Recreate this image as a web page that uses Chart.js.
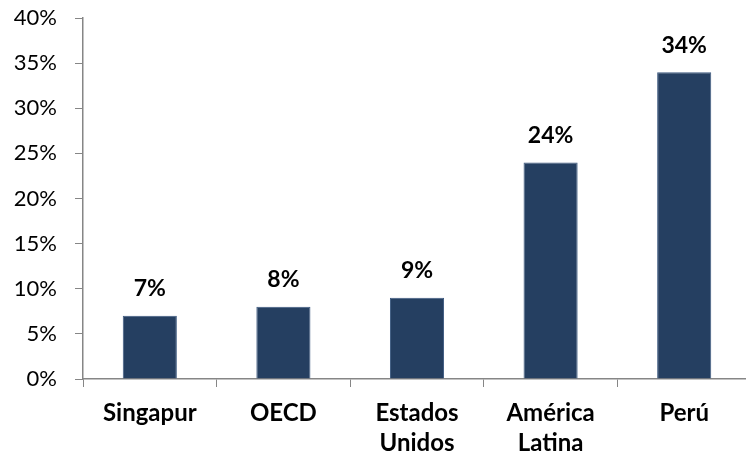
<!DOCTYPE html>
<html>
<head>
<meta charset="utf-8">
<script src="https://cdn.jsdelivr.net/npm/chart.js@4/dist/chart.umd.min.js"></script>
<style>
html,body{margin:0;padding:0;background:#fff;overflow:hidden;}
#wrap{width:752px;height:457px;}
</style>
</head>
<body>
<div id="wrap"><canvas id="c" width="752" height="457"></canvas></div>
<script>
const categories = [["Singapur"], ["OECD"], ["Estados", "Unidos"], ["América", "Latina"], ["Perú"]];
const values = [7, 8, 9, 24, 34];
const yTicks = [0, 5, 10, 15, 20, 25, 30, 35, 40];

const FONT = "Lato, 'Open Sans', sans-serif";

const labelPlugin = {
  id: 'valueLabels',
  afterDatasetsDraw(chart) {
    const ctx = chart.ctx;
    const meta = chart.getDatasetMeta(0);
    ctx.save();
    ctx.font = "bold 23px " + FONT;
    ctx.fillStyle = '#000';
    ctx.textAlign = 'center';
    ctx.textBaseline = 'middle';
    meta.data.forEach((bar, i) => {
      ctx.fillText(values[i] + '%', bar.x, bar.y - 27);
    });
    ctx.restore();
  }
};

new Chart(document.getElementById('c'), {
  type: 'bar',
  data: {
    labels: categories,
    datasets: [{
      data: values,
      backgroundColor: '#253F61',
      borderColor: '#3D5A80',
      borderWidth: 1,
      barPercentage: 0.405,
      categoryPercentage: 1.0
    }]
  },
  options: {
    responsive: false,
    animation: false,
    devicePixelRatio: 1,
    layout: { padding: { top: 18, right: 1, left: 0, bottom: 0 } },
    plugins: { legend: { display: false }, tooltip: { enabled: false } },
    scales: {
      x: {
        afterFit(scale) { scale.height = 78; },
        grid: { display: true, drawOnChartArea: false, drawTicks: true, tickLength: 8, offset: true, color: '#868686', lineWidth: 1 },
        border: { display: true, color: '#868686', width: 1.5 },
        ticks: { color: '#000', font: { family: FONT, size: 24, weight: 'bold', lineHeight: 1.25 }, padding: 11, maxRotation: 0, autoSkip: false }
      },
      y: {
        min: 0, max: 40,
        afterFit(scale) { scale.width = 83; scale.paddingTop = 0; scale.paddingBottom = 0; },
        afterBuildTicks(scale) { scale.ticks = yTicks.map(v => ({ value: v })); },
        grid: { display: true, drawOnChartArea: false, drawTicks: true, tickLength: 8, color: '#868686', lineWidth: 1 },
        border: { display: true, color: '#868686', width: 1.5 },
        ticks: { color: '#000', font: { family: FONT, size: 22 }, padding: 18, callback: v => v + '%' }
      }
    }
  },
  plugins: [labelPlugin]
});
</script>
</body>
</html>
